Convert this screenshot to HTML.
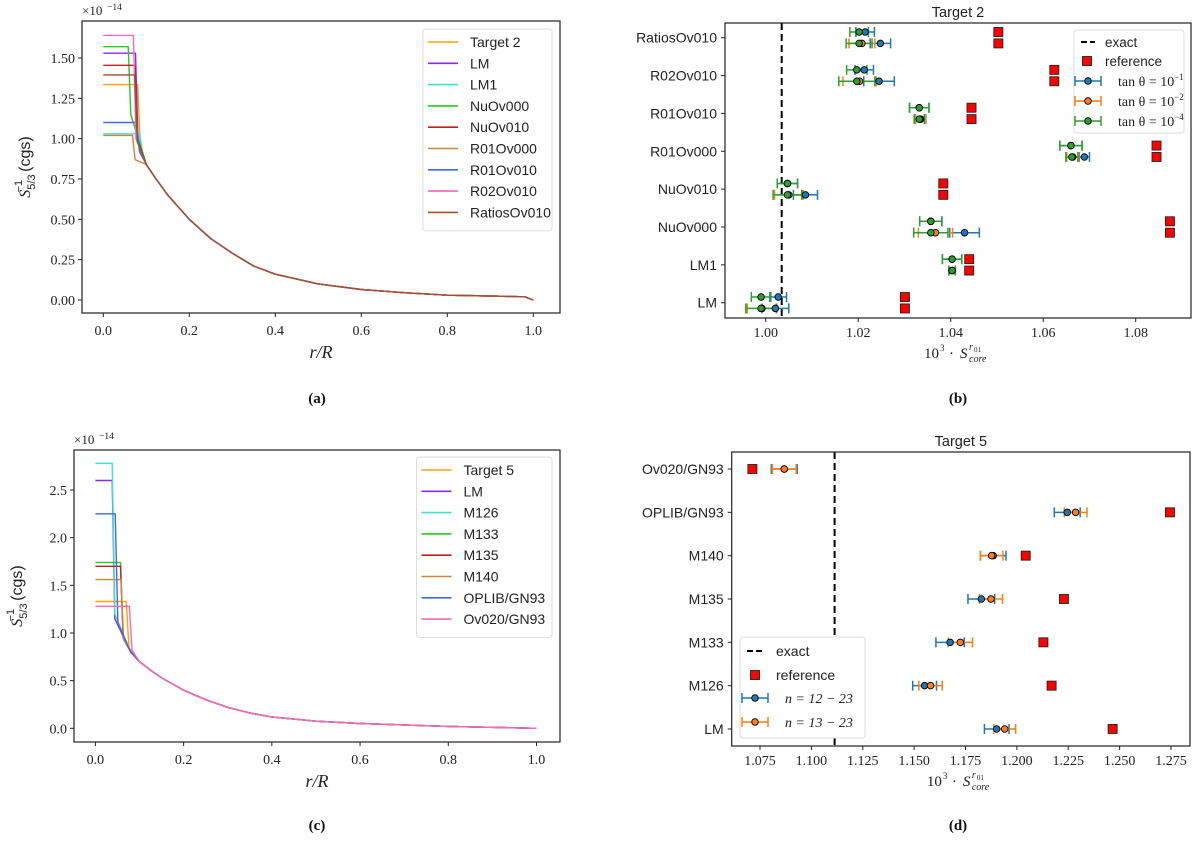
<!DOCTYPE html>
<html><head><meta charset="utf-8">
<style>
body{margin:0;background:#fff;}
svg{display:block;}
.tk{font-family:"Liberation Serif",serif;font-size:14px;fill:#222;}
.sans{font-family:"Liberation Sans",sans-serif;font-size:13.5px;fill:#222;}
</style></head>
<body>
<svg id="fig" width="1200" height="846" viewBox="0 0 1200 846" xmlns="http://www.w3.org/2000/svg"></svg>
<script>
// ---------- Panel (a) data ----------
const aNames=["Target 2","LM","LM1","NuOv000","NuOv010","R01Ov000","R01Ov010","R02Ov010","RatiosOv010"];
const aCore=[1.335,1.53,1.03,1.57,1.455,1.02,1.10,1.64,1.395];
const aEdge=[0.080,0.075,0.085,0.058,0.073,0.068,0.078,0.070,0.073];
const aKnee=[0.95,0.97,0.92,1.15,1.0,0.87,0.92,1.0,0.98];
const aTailR=[0.1,0.12,0.15,0.2,0.25,0.3,0.35,0.4,0.5,0.6,0.7,0.8,0.9,0.98,1.0];
const aTailV=[0.84,0.76,0.65,0.50,0.38,0.29,0.21,0.16,0.10,0.065,0.045,0.03,0.025,0.02,0];
const aYTicks=[0,0.25,0.5,0.75,1.0,1.25,1.5];
// ---------- Panel (c) data ----------
const cNames=["Target 5","LM","M126","M133","M135","M140","OPLIB/GN93","Ov020/GN93"];
const cCore=[1.33,2.60,2.78,1.74,1.70,1.56,2.25,1.28];
const cEdge=[0.070,0.038,0.038,0.057,0.057,0.058,0.045,0.077];
const cKnee=[0.85,1.15,1.2,0.95,0.95,0.93,1.1,0.82];
const cTailR=[0.08,0.1,0.125,0.15,0.2,0.25,0.3,0.35,0.4,0.5,0.6,0.8,1.0];
const cTailV=[0.80,0.70,0.61,0.53,0.40,0.30,0.22,0.16,0.12,0.075,0.05,0.02,0];
const cYTicks=[0,0.5,1.0,1.5,2.0,2.5];
const xTicksAC=[0,0.2,0.4,0.6,0.8,1.0];
// ---------- Panel (b) data ----------
const bCats=["RatiosOv010","R02Ov010","R01Ov010","R01Ov000","NuOv010","NuOv000","LM1","LM"];
const bRef=[1.0503,1.0624,1.0445,1.0845,1.0384,1.0874,1.0440,1.0301];
const bUpGreen=[1.0202,1.0197,1.0332,1.0660,1.0047,1.0357,1.0403,0.9990];
const bUpGreenErr=[0.0020,0.0022,0.0021,0.0024,0.0022,0.0024,0.0021,0.0021];
const bUpBlue=[1.0215,1.0213,1.0332,1.0660,1.0047,1.0357,1.0403,1.0027];
const bUpBlueErr=[0.0020,0.0020,0.0021,0.0024,0.0022,0.0024,0.0021,0.0018];
const bLoGreen=[1.0202,1.0197,1.0332,1.0662,1.0047,1.0357,1.0403,0.9990];
const bLoGreenErr=[0.0028,0.0039,0.0011,0.0013,0.0031,0.0037,0.0007,0.0033];
const bLoOrange=[1.0208,1.0203,1.0334,1.0664,1.0050,1.0367,1.0403,0.9992];
const bLoOrangeErr=[0.0028,0.0036,0.0011,0.0013,0.0031,0.0037,0.0007,0.0032];
const bLoBlue=[1.0248,1.0245,1.0335,1.0689,1.0086,1.0430,1.0403,1.0021];
const bLoBlueErr=[0.0022,0.0033,0.0011,0.0011,0.0026,0.0032,0.0007,0.0029];
const bExact=1.00346;
const bXTicks=[1.00,1.02,1.04,1.06,1.08];
// ---------- Panel (d) data ----------
const dCats=["Ov020/GN93","OPLIB/GN93","M140","M135","M133","M126","LM"];
const dRef=[1.0713,1.2745,1.2043,1.2229,1.2129,1.2169,1.2466];
const dBlue=[1.0868,1.2245,1.1885,1.1827,1.1675,1.1551,1.1902];
const dBlueErr=[0.0063,0.0063,0.0062,0.0065,0.0069,0.0058,0.0060];
const dOrange=[1.0868,1.2286,1.1877,1.1874,1.1725,1.1580,1.1941];
const dOrangeErr=[0.0058,0.0055,0.0055,0.0056,0.0059,0.0057,0.0053];
const dExact=1.1113;
const dXTicks=[1.075,1.100,1.125,1.150,1.175,1.200,1.225,1.250,1.275];

const NS="http://www.w3.org/2000/svg";
const svg=document.getElementById('fig');
function mk(tag,attrs,parent,text){const e=document.createElementNS(NS,tag);for(const k in attrs){if(k==='font-size')e.style.fontSize=attrs[k]+'px';else e.setAttribute(k,attrs[k]);}if(text!==undefined)e.textContent=text;(parent||svg).appendChild(e);return e;}
function lin(d0,d1,p0,p1){return v=>p0+(v-d0)*(p1-p0)/(d1-d0);}

const aColors=["#ffa500","#8a2be2","#40e0d0","#22cc22","#c02020","#cd853f","#3f6ae6","#ff69b4","#a0522d"];
const cColors=["#ffa500","#8a2be2","#40e0d0","#22cc22","#c02020","#cd853f","#3f6ae6","#ff69b4"];

function linePanel(o){
  const g=mk('g',{});
  
  
  const X=lin(0,1,o.x0,o.x1), Y=lin(0,o.yv,o.y0,o.y1);
  for(let i=0;i<o.names.length;i++){
    const pts=[[0,o.core[i]],[o.edge[i],o.core[i]],[o.edge[i]+0.006,o.knee[i]]];
    for(let j=0;j<o.tr.length;j++) if(o.tr[j]>o.edge[i]+0.012) pts.push([o.tr[j],o.tv[j]]);
    const p=mk('polyline',{points:pts.map(q=>X(q[0]).toFixed(1)+','+Y(q[1]).toFixed(1)).join(' '),fill:'none',stroke:o.colors[i],'stroke-width':1.4,'stroke-linejoin':'round'},g);
    
    
  }
  const fr=mk('rect',{x:o.L,y:o.T,width:o.R-o.L,height:o.B-o.T,fill:'none',stroke:'#222','stroke-width':1.2},g);
  
  
  o.yt.forEach(v=>{const y=Y(v);mk('line',{x1:o.L-4,x2:o.L,y1:y,y2:y,stroke:'#222'},g);
    const t=mk('text',{x:o.L-7,y:y+5,'text-anchor':'end',class:'tk'},g,v.toFixed(o.yd));
    });
  xTicksAC.forEach(v=>{const x=X(v);mk('line',{x1:x,x2:x,y1:o.B,y2:o.B+4,stroke:'#222'},g);
    const t=mk('text',{x:x,y:o.B+22,'text-anchor':'middle',class:'tk'},g,v.toFixed(1));
    });
  const ex=mk('text',{x:o.L,y:o.T-6,class:'tk','font-size':'13'},g,'×10');
  
  mk('text',{x:o.L+25,y:o.T-11,class:'tk','font-size':'9.5'},g,'−14');
  const xl=mk('text',{x:(o.L+o.R)/2,y:o.B+45,'text-anchor':'middle',class:'tk','font-size':'18','font-style':'italic'},g,'r/R');
  
  const yl=mk('text',{transform:`translate(${o.L-52},${(o.T+o.B)/2}) rotate(-90)`,'text-anchor':'middle',class:'sans','font-size':'16'},g);
  
  mk('tspan',{'font-family':'Liberation Serif','font-style':'italic'},yl,'S');
  mk('tspan',{'font-size':'11',dy:'5'},yl,'5/3');
  mk('tspan',{'font-size':'11',dy:'-13',dx:'-18'},yl,'−1');
  mk('tspan',{dy:'8',dx:'8'},yl,'(cgs)');
  const lg=mk('g',{},g);
  
  mk('rect',{x:o.lx,y:o.ly,width:o.lw,height:o.names.length*21.3+10,fill:'#fff',stroke:'#ddd',rx:3},lg);
  o.names.forEach((n,i)=>{const y=o.ly+13+i*21.3;
    mk('line',{x1:o.lx+5,x2:o.lx+35,y1:y,y2:y,stroke:o.colors[i],'stroke-width':1.6},lg);
    const t=mk('text',{x:o.lx+47,y:y+5,class:'sans','font-size':'14'},lg,n);
    });
}
linePanel({name:'panel-a',L:82,R:560,T:21,B:313,x0:103.3,x1:533.3,y0:300,y1:58,yv:1.5,names:aNames,core:aCore,edge:aEdge,knee:aKnee,tr:aTailR,tv:aTailV,colors:aColors,yt:aYTicks,yd:2,lx:423,ly:29,lw:129});
linePanel({name:'panel-c',L:74,R:560,T:450,B:742,x0:95.4,x1:536.5,y0:728.3,y1:490,yv:2.5,names:cNames,core:cCore,edge:cEdge,knee:cKnee,tr:cTailR,tv:cTailV,colors:cColors,yt:cYTicks,yd:1,lx:416.5,ly:457,lw:135.5});

const BLUE='#1f77b4',ORANGE='#ff7f0e',GREEN='#2ca02c';
function errbar(g,X,v,e,y,col){
  const x0=X(v-e),x1=X(v+e);
  mk('line',{x1:x0,x2:x1,y1:y,y2:y,stroke:col,'stroke-width':1.5},g);
  mk('line',{x1:x0,x2:x0,y1:y-5,y2:y+5,stroke:col,'stroke-width':1.5},g);
  mk('line',{x1:x1,x2:x1,y1:y-5,y2:y+5,stroke:col,'stroke-width':1.5},g);
}
function dot(g,X,v,y,col){return mk('circle',{cx:X(v),cy:y,r:3.3,fill:col,stroke:'#000','stroke-width':0.9},g);}
function sq(g,x,y){return mk('rect',{x:x-4.5,y:y-4.5,width:9,height:9,fill:'#ff0000',stroke:'#222','stroke-width':0.9},g);}

function frameTicks(g,o,X,ticks,dec,cats,rowY){
  const fr=mk('rect',{x:o.L,y:o.T,width:o.R-o.L,height:o.B-o.T,fill:'none',stroke:'#222','stroke-width':1.2},g);
  
  ticks.forEach(v=>{const x=X(v);mk('line',{x1:x,x2:x,y1:o.B,y2:o.B+4,stroke:'#222'},g);
    const t=mk('text',{x:x,y:o.B+19,'text-anchor':'middle',class:'tk'},g,v.toFixed(dec));
    });
  cats.forEach((c,i)=>{const y=rowY(i);mk('line',{x1:o.L-4,x2:o.L,y1:y,y2:y,stroke:'#222'},g);
    const t=mk('text',{x:o.L-8,y:y+5,'text-anchor':'end',class:'sans','font-size':'14'},g,c);
    });
  const tt=mk('text',{x:(o.L+o.R)/2,y:o.T-6,'text-anchor':'middle',class:'sans','font-size':'14.5'},g,o.title);
  
  const cx=(o.L+o.R)/2-34, by=o.B+40;
  const xl=mk('text',{x:cx,y:by,class:'tk','font-size':'15'},g,'10');
  
  mk('text',{x:cx+16,y:by-7,class:'tk','font-size':'9'},g,'3');
  mk('text',{x:cx+25,y:by,class:'tk','font-size':'15'},g,'·');
  mk('text',{x:cx+36,y:by,class:'tk','font-size':'15','font-style':'italic'},g,'S');
  mk('text',{x:cx+45,y:by+4,class:'tk','font-size':'10','font-style':'italic'},g,'core');
  mk('text',{x:cx+45,y:by-8,class:'tk','font-size':'10','font-style':'italic'},g,'r');
  mk('text',{x:cx+50,y:by-6,class:'tk','font-size':'7'},g,'01');
}
function legendErr(lg,x,y,col,label,ital){
  errbar(lg,v=>v,x+15,13,y,col);dot(lg,v=>v,x+15,y,col);
  const t=mk('text',{x:x+45,y:y+5,class:'tk','font-size':'14'},lg,label);
  if(ital) t.setAttribute('font-style','italic');
  return t;
}

// Panel b
(function(){
  const o={L:725,R:1191,T:23,B:318,title:'Target 2'};
  const g=mk('g',{});
  const X=lin(1.00,1.08,765.7,1135.7);
  const rowY=i=>37.7+i*37.86;
  mk('line',{x1:X(bExact),x2:X(bExact),y1:o.T,y2:o.B,stroke:'#000','stroke-width':2,'stroke-dasharray':'7,4'},g);
  bCats.forEach((c,i)=>{const yu=rowY(i)-5.7,yl=rowY(i)+5.7;
    errbar(g,X,bUpBlue[i],bUpBlueErr[i],yu,BLUE);errbar(g,X,bUpGreen[i],bUpGreenErr[i],yu,GREEN);
    errbar(g,X,bLoBlue[i],bLoBlueErr[i],yl,BLUE);errbar(g,X,bLoOrange[i],bLoOrangeErr[i],yl,ORANGE);errbar(g,X,bLoGreen[i],bLoGreenErr[i],yl,GREEN);
    dot(g,X,bUpBlue[i],yu,BLUE);
    dot(g,X,bUpGreen[i],yu,GREEN);
    dot(g,X,bLoBlue[i],yl,BLUE);
    dot(g,X,bLoOrange[i],yl,ORANGE);
    dot(g,X,bLoGreen[i],yl,GREEN);
    sq(g,X(bRef[i]),yu);
    sq(g,X(bRef[i]),yl);
  });
  frameTicks(g,o,X,bXTicks,2,bCats,rowY);
  const lg=mk('g',{},g);
  mk('rect',{x:1074,y:30,width:110,height:103,fill:'#fff',stroke:'#ddd',rx:3},lg);
  mk('line',{x1:1081,x2:1095,y1:42,y2:42,stroke:'#000','stroke-width':2,'stroke-dasharray':'6,3'},lg);
  mk('text',{x:1105,y:47,class:'sans'},lg,'exact');
  sq(lg,1087,61);mk('text',{x:1105,y:66,class:'sans'},lg,'reference');
  [[BLUE,'−1',81],[ORANGE,'−2',101],[GREEN,'−4',121]].forEach(a=>{
    const t=legendErr(lg,1073,a[2],a[0],'tan θ = 10',false);mk('tspan',{'font-size':'9',dy:'-6'},t,a[1]);});
})();

// Panel d
(function(){
  const o={L:731.7,R:1190,T:452,B:746,title:'Target 5'};
  const g=mk('g',{});
  const X=lin(1.075,1.275,760,1171);
  const rowY=i=>469+i*43.33;
  mk('line',{x1:X(dExact),x2:X(dExact),y1:o.T,y2:o.B,stroke:'#000','stroke-width':2,'stroke-dasharray':'7,4'},g);
  dCats.forEach((c,i)=>{const y=rowY(i);
    errbar(g,X,dBlue[i],dBlueErr[i],y,BLUE);errbar(g,X,dOrange[i],dOrangeErr[i],y,ORANGE);
    dot(g,X,dBlue[i],y,BLUE);
    dot(g,X,dOrange[i],y,ORANGE);
    sq(g,X(dRef[i]),y);
  });
  frameTicks(g,o,X,dXTicks,3,dCats,rowY);
  const lg=mk('g',{},g);
  mk('rect',{x:740,y:637,width:125,height:101,fill:'#fff',stroke:'#ddd',rx:3},lg);
  mk('line',{x1:747,x2:763,y1:651,y2:651,stroke:'#000','stroke-width':2,'stroke-dasharray':'6,3'},lg);
  mk('text',{x:776,y:656,class:'sans','font-size':'14'},lg,'exact');
  sq(lg,755,675);mk('text',{x:776,y:680,class:'sans','font-size':'14'},lg,'reference');
  legendErr(lg,740,698,BLUE,'n = 12 − 23',true);
  legendErr(lg,740,722,ORANGE,'n = 13 − 23',true);
})();

// captions
[['(a)',317,403],['(b)',958,403],['(c)',317,830],['(d)',958,830]].forEach(c=>{
  const t=mk('text',{x:c[1],y:c[2],'text-anchor':'middle','font-family':'Liberation Serif',"font-size":'15','font-weight':'bold',fill:'#111'},svg,c[0]);
  });
</script>
</body></html>
